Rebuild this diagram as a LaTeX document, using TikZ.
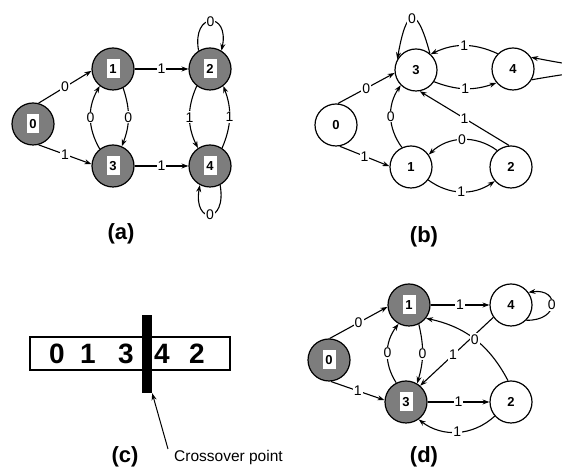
\documentclass[tikz,border=0pt]{standalone}
\usepackage{fontspec}
\setmainfont{Liberation Sans}
\usetikzlibrary{arrows.meta}
\definecolor{nodegray}{RGB}{125,125,125}
\newcommand\nbox[1]{{\setlength\fboxsep{0pt}\colorbox{white}{\makebox[13pt]{\rule[-5pt]{0pt}{19pt}#1}}}}
\begin{document}
\begin{tikzpicture}[x=1pt,y=1pt,
  every node/.style={font=\fontsize{13}{13}\selectfont},
  gnode/.style={circle, draw, line width=1.2pt, fill=nodegray, minimum size=42pt, inner sep=0pt, font=\bfseries\fontsize{13}{13}\selectfont},
  wnode/.style={circle, draw, line width=1.2pt, fill=white, minimum size=42pt, inner sep=0pt, font=\bfseries\fontsize{13}{13}\selectfont},
  arr/.style={line width=1.1pt, -{Stealth[length=7pt,width=5pt]}},
  lab/.style={fill=white, inner sep=1pt, font=\fontsize{14}{14}\selectfont},
  ptitle/.style={font=\bfseries\fontsize{22}{22}\selectfont},
  cdig/.style={font=\bfseries\fontsize{28}{28}\selectfont, inner sep=0pt},
]
\useasboundingbox (0,0) rectangle (562,470);
\clip (0,0) rectangle (562,470);
\fill[white] (0,0) rectangle (562,470);

% ---------- (a) ----------
\node[gnode] (a0) at (33,346) {\nbox{0}};
\node[gnode] (a1) at (113,401) {\nbox{1}};
\node[gnode] (a2) at (210,401) {\nbox{2}};
\node[gnode] (a3) at (113,304) {\nbox{3}};
\node[gnode] (a4) at (210,304) {\nbox{4}};
\draw[arr] (a0.75) -- node[lab]{0} (a1.185);
\draw[arr] (a0.-75) -- node[lab]{1} (a3.175);
\draw[arr] (a1) -- node[lab]{1} (a2);
\draw[arr] (a3) -- node[lab]{1} (a4);
\draw[arr] (a1.-62) to[bend left=20] node[lab]{0} (a3.66);
\draw[arr] (a3.128) to[bend left=30] node[lab]{0} (a1.-128);
\draw[arr] (a2.-128) to[bend right=25] node[lab]{1} (a4.124);
\draw[arr] (a4.56) to[bend right=22] node[lab]{1} (a2.-52);
\draw[arr] (a2.122) .. controls +(100:40) and +(78:40) .. node[lab]{0} (a2.58);
\draw[arr] (a4.-62) .. controls +(-80:40) and +(-100:40) .. node[lab]{0} (a4.-118);
\node[ptitle] (ta) at (121,236) {(a)};

% ---------- (b) ----------
\node[wnode] (b0) at (336,345) {0};
\node[wnode] (b3) at (416,400) {3};
\node[wnode] (b4) at (513,401) {4};
\node[wnode] (b1) at (411,303) {1};
\node[wnode] (b2) at (511,303) {2};
\draw[arr] (b0.85) -- node[lab]{0} (b3.188);
\draw[arr] (b0.-80) -- node[lab]{1} (b1.178);
\draw[arr] (b3.50) .. controls +(105:52) and +(80:52) .. node[lab]{0} (b3.150);
\draw[arr] (b4.135) to[bend right=25] node[lab]{1} (b3.47);
\draw[arr] (b3.-33) to[bend right=20] node[lab]{1} (b4.-140);
\draw[arr] (b4.-30) .. controls (630,408) and (630,393) .. (b4.33);
\draw[arr] (b2.95) -- node[lab]{1} (b3.-80);
\draw[arr] (b1.115) to[bend left=35] node[lab]{0} (b3.-135);
\draw[arr] (b2.130) to[bend right=40] node[lab]{0} (b1.35);
\draw[arr] (b1.-37) to[bend right=35] node[lab]{1} (b2.-139);
\node[ptitle] (tb) at (424,233) {(b)};

% ---------- (c) ----------
\node[draw, line width=1.3pt, minimum width=200pt, minimum height=33pt, inner sep=0pt] (chrom) at (130,116.5) {};
\node[cdig] (g0) at (57,116) {0};
\node[cdig] (g1) at (88,116) {1};
\node[cdig] (g3) at (126,116) {3};
\node[cdig] (g4) at (162,116) {4};
\node[cdig] (g2) at (197,116) {2};
\node[fill=black, minimum width=10pt, minimum height=78pt, inner sep=0pt] (bar) at (147,116) {};
\coordinate (cs) at (168,21);
\draw[line width=1pt, -{Stealth[length=7pt,width=5pt]}] (cs) -- (bar.south east);
\node[anchor=west, inner sep=0pt, font=\fontsize{15.5}{15.5}\selectfont] (cross) at (174,13) {Crossover point};
\node[ptitle] (tc) at (125,13) {(c)};

% ---------- (d) ----------
\node[gnode] (d0) at (329,110) {\nbox{0}};
\node[gnode] (d1) at (409,165) {\nbox{1}};
\node[gnode] (d3) at (406,68) {\nbox{3}};
\node[wnode] (d4) at (511,165) {4};
\node[wnode] (d2) at (511,68) {2};
\draw[arr] (d0.88) -- node[lab]{0} (d1.185);
\draw[arr] (d0.-85) -- node[lab]{1} (d3.175);
\draw[arr] (d1) -- node[lab]{1} (d4);
\draw[arr] (d3) -- node[lab]{1} (d2);
\draw[arr] (d1.-63) to[bend left=15] node[lab]{0} (d3.59);
\draw[arr] (d3.117) to[bend left=35] node[lab]{0} (d1.-119);
\draw[arr] (d4.215) -- node[lab, pos=0.55]{1} (d3.49);
\draw[arr] (d2.98) to[bend right=25] node[lab]{0} (d1.-38);
\draw[arr] (d2.-139) to[bend left=40] node[lab]{1} (d3.-54);
\draw[arr] (d4.-45) .. controls (560,149) and (560,182) .. node[lab]{0} (d4.36);
\node[ptitle] (td) at (424,13) {(d)};
\end{tikzpicture}
\end{document}
